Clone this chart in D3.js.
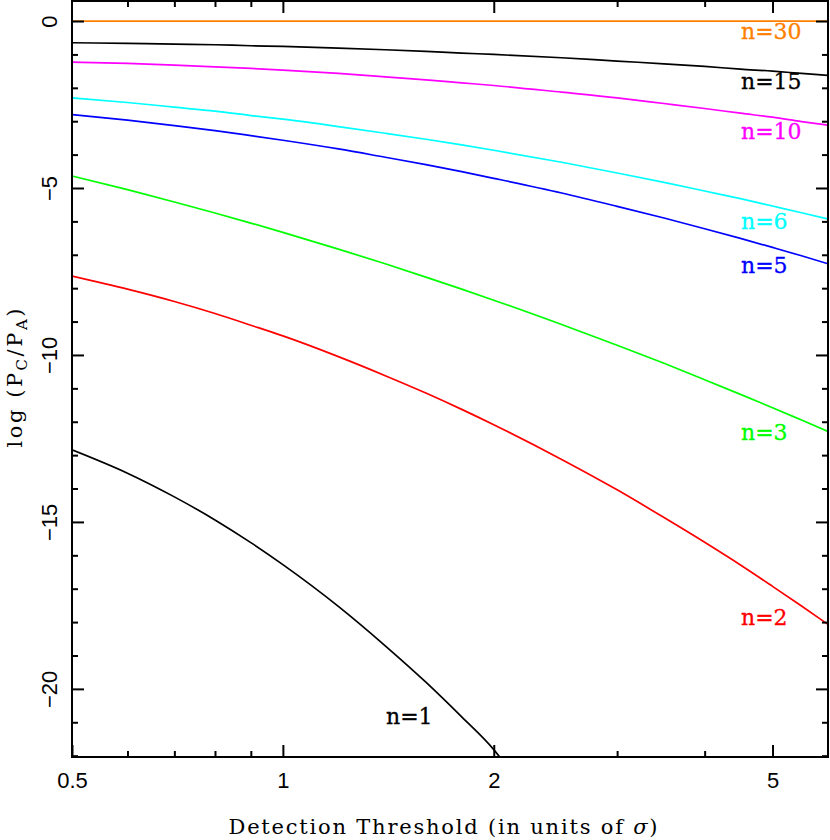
<!DOCTYPE html>
<html>
<head>
<meta charset="utf-8">
<script src="https://cdn.jsdelivr.net/npm/d3@7"></script>
<style>
  html, body { margin: 0; padding: 0; background: #fff; }
  svg { display: block; }
</style>
</head>
<body>
<svg id="chart" width="830" height="840"></svg>
<script>
// ---------------- data ----------------
const thresholds = [0.5, 0.6, 0.7, 0.8, 0.9, 1.0, 1.2, 1.4, 1.6, 1.8, 2.0, 2.5, 3.0, 3.5, 4.0, 4.5, 5.0, 5.5, 6.0];
const n30 = [0, 0, 0, 0, 0, 0, 0, 0, 0, 0, 0, 0, 0, 0, 0, 0, 0, 0, 0];
const n15 = [-0.65, -0.67, -0.69, -0.71, -0.74, -0.76, -0.81, -0.86, -0.91, -0.96, -1.00, -1.10, -1.20, -1.28, -1.36, -1.44, -1.50, -1.57, -1.63];
const n10 = [-1.23, -1.27, -1.32, -1.37, -1.42, -1.47, -1.57, -1.67, -1.76, -1.85, -1.93, -2.13, -2.30, -2.47, -2.62, -2.76, -2.88, -3.01, -3.12];
const n6  = [-2.30, -2.44, -2.58, -2.70, -2.83, -2.94, -3.16, -3.36, -3.54, -3.71, -3.87, -4.23, -4.55, -4.83, -5.09, -5.32, -5.54, -5.74, -5.93];
const n5  = [-2.80, -2.97, -3.13, -3.28, -3.43, -3.57, -3.83, -4.08, -4.30, -4.51, -4.71, -5.15, -5.55, -5.90, -6.22, -6.51, -6.78, -7.03, -7.27];
const n3  = [-4.64, -5.05, -5.42, -5.75, -6.05, -6.33, -6.83, -7.27, -7.67, -8.03, -8.36, -9.09, -9.71, -10.25, -10.74, -11.18, -11.58, -11.95, -12.29];
const n2  = [-7.64, -8.03, -8.40, -8.76, -9.11, -9.43, -10.05, -10.62, -11.14, -11.63, -12.09, -13.13, -14.04, -14.87, -15.61, -16.29, -16.93, -17.52, -18.07];
const n1x = [0.5, 0.6, 0.7, 0.8, 0.9, 1.0, 1.2, 1.4, 1.6, 1.8, 2.0, 2.05];
const n1  = [-12.84, -13.54, -14.25, -14.94, -15.62, -16.28, -17.53, -18.71, -19.80, -20.84, -21.82, -22.10];

const curveNames  = ["n=30", "n=15", "n=10", "n=6", "n=5", "n=3", "n=2", "n=1"];
const curveColors = ["#ff8000", "#000000", "#ff00ff", "#00ffff", "#0000ff", "#00ff00", "#ff0000", "#000000"];

const xMajorTicks = [0.5, 1, 2, 5];
const xMinorTicks = [0.6, 0.7, 0.8, 0.9, 3, 4];
const yMajorTicks = [0, -5, -10, -15, -20];
const yMinorTicks = [-1, -2, -3, -4, -6, -7, -8, -9, -11, -12, -13, -14, -16, -17, -18, -19, -21, -22];

// ---------------- layout ----------------
const L = 72, R = 828, T = 1, B = 757;
const svg = d3.select("#chart");

const x = d3.scaleLog().domain([0.5, 6]).range([L, R]);
const y = d3.scaleLinear().domain([-22.04, 0.6]).range([B, T]);

const series = [
  { xs: thresholds, ys: n30 },
  { xs: thresholds, ys: n15 },
  { xs: thresholds, ys: n10 },
  { xs: thresholds, ys: n6 },
  { xs: thresholds, ys: n5 },
  { xs: thresholds, ys: n3 },
  { xs: thresholds, ys: n2 },
  { xs: n1x, ys: n1 }
];

svg.append("defs").append("clipPath").attr("id", "plotclip")
  .append("rect").attr("x", L).attr("y", T).attr("width", R - L).attr("height", B - T);

const line = d3.line().x(d => x(d[0])).y(d => y(d[1])).curve(d3.curveMonotoneX);

const g = svg.append("g").attr("clip-path", "url(#plotclip)");
series.forEach((s, i) => {
  g.append("path")
    .datum(s.xs.map((v, j) => [v, s.ys[j]]))
    .attr("d", line)
    .attr("fill", "none")
    .attr("stroke", curveColors[i])
    .attr("stroke-width", 1.7);
});

// curve labels
const labelPos = [
  [741, 39], [741, 89], [741, 139], [741, 229], [741, 273], [741, 440], [741, 625], [386, 724]
];
svg.append("g").selectAll("text").data(curveNames).join("text")
  .attr("x", (d, i) => labelPos[i][0])
  .attr("y", (d, i) => labelPos[i][1])
  .attr("fill", (d, i) => curveColors[i])
  .attr("stroke", (d, i) => curveColors[i])
  .attr("stroke-width", 0.3)
  .attr("font-family", "DejaVu Serif, serif")
  .attr("font-size", 22)
  .text(d => d);

// ---------------- axes ----------------
function styleAxis(sel) {
  sel.select(".domain").remove();
  sel.selectAll(".tick line").attr("stroke", "#000").attr("stroke-width", 2);
}
const tickFont = "Liberation Sans, Arial, sans-serif";

// bottom
svg.append("g").attr("transform", `translate(0,${B})`)
  .call(d3.axisBottom(x).tickValues(xMajorTicks).tickSize(-12).tickPadding(15)
    .tickFormat(d => String(d)))
  .call(styleAxis)
  .call(s => s.selectAll("text").attr("font-family", tickFont).attr("font-size", 22).attr("fill", "#000"));
svg.append("g").attr("transform", `translate(0,${B})`)
  .call(d3.axisBottom(x).tickValues(xMinorTicks).tickSize(-6).tickFormat(""))
  .call(styleAxis);
// top
svg.append("g").attr("transform", `translate(0,${T})`)
  .call(d3.axisTop(x).tickValues(xMajorTicks.slice(1)).tickSize(-12).tickFormat(""))
  .call(styleAxis);
svg.append("g").attr("transform", `translate(0,${T})`)
  .call(d3.axisTop(x).tickValues(xMinorTicks).tickSize(-6).tickFormat(""))
  .call(styleAxis);
// left
svg.append("g").attr("transform", `translate(${L},0)`)
  .call(d3.axisLeft(y).tickValues(yMajorTicks).tickSize(-12)
    .tickFormat(d => d < 0 ? "\u2212" + Math.abs(d) : String(d)))
  .call(styleAxis)
  .call(s => s.selectAll("text")
    .attr("x", null).attr("dy", null)
    .attr("text-anchor", "middle")
    .attr("transform", "translate(-15,0) rotate(-90)")
    .attr("font-family", tickFont).attr("font-size", 22).attr("fill", "#000"));
svg.append("g").attr("transform", `translate(${L},0)`)
  .call(d3.axisLeft(y).tickValues(yMinorTicks).tickSize(-6).tickFormat(""))
  .call(styleAxis);
// right
svg.append("g").attr("transform", `translate(${R},0)`)
  .call(d3.axisRight(y).tickValues(yMajorTicks).tickSize(-12).tickFormat(""))
  .call(styleAxis);
svg.append("g").attr("transform", `translate(${R},0)`)
  .call(d3.axisRight(y).tickValues(yMinorTicks).tickSize(-6).tickFormat(""))
  .call(styleAxis);

// frame
svg.append("rect").attr("x", L).attr("y", T).attr("width", R - L).attr("height", B - T)
  .attr("fill", "none").attr("stroke", "#000").attr("stroke-width", 2);

// axis titles
svg.append("text")
  .attr("x", 443).attr("y", 834)
  .attr("text-anchor", "middle")
  .attr("font-family", "DejaVu Serif, serif")
  .attr("font-size", 21)
  .attr("textLength", 429)
  .attr("lengthAdjust", "spacing")
  .attr("fill", "#000")
  .html('Detection Threshold (in units of <tspan font-style="italic">σ</tspan>)');

const yt = svg.append("text")
  .attr("transform", "translate(22,378) rotate(-90)")
  .attr("text-anchor", "middle")
  .attr("font-family", "DejaVu Serif, serif")
  .attr("font-size", 21)
  .attr("textLength", 139)
  .attr("lengthAdjust", "spacing")
  .attr("fill", "#000");
yt.append("tspan").text("log (P");
yt.append("tspan").attr("font-size", 15).attr("dy", 5).text("C");
yt.append("tspan").attr("dy", -5).text("/P");
yt.append("tspan").attr("font-size", 15).attr("dy", 5).text("A");
yt.append("tspan").attr("dy", -5).text(")");
</script>
</body>
</html>
